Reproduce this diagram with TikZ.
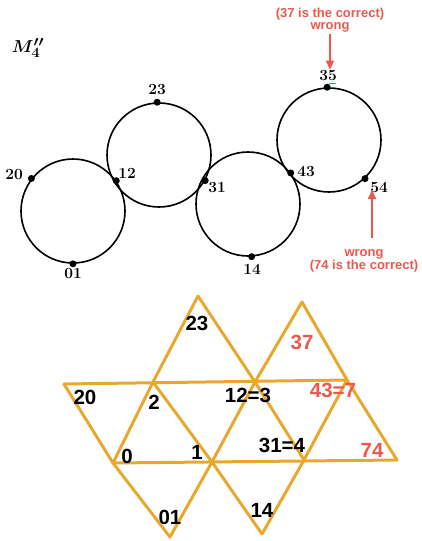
\documentclass[tikz,border=0pt]{standalone}
\usepackage{fontspec}
\usepackage{bm}
\usepackage{tikz}
\usetikzlibrary{arrows.meta, positioning}
\newfontfamily\arialfont{Liberation Sans}
\definecolor{orangeline}{RGB}{232,168,48}
\definecolor{redmark}{RGB}{236,88,76}

\begin{document}
\begin{tikzpicture}[x=1pt, y=-1pt,
    ring/.style={circle, draw=black, line width=1.6pt, minimum size=104pt, inner sep=0pt},
    dot/.style={circle, fill=black, inner sep=0pt, minimum size=7pt},
    num/.style={font=\fontsize{15.5}{15.5}\selectfont\bfseries, inner sep=1pt},
    note/.style={font=\arialfont\bfseries\fontsize{13}{11.5}\selectfont, text=redmark, align=center, inner sep=0pt},
    edge/.style={draw=orangeline, line width=3pt, line cap=round, line join=round},
    tri/.style={font=\arialfont\bfseries\fontsize{20.5}{20.5}\selectfont, inner sep=0pt},
    >={Triangle[width=8pt, length=9pt]}]
    \useasboundingbox (0,0) rectangle (421,541);

    % 1. Bốn đường tròn
    \node[font=\fontsize{19}{19}\selectfont\boldmath] (title) at (28,48) {$M_4''$};
    \node[ring] (c1) at (73,211) {};
    \node[ring] (c2) at (159,155) {};
    \node[ring] (c3) at (248,204) {};
    \node[ring] (c4) at (329,140) {};

    % Các điểm trên đường tròn
    \node[dot] (d20) at (c1.142) {};
    \node[dot] (d12) at (c1.35) {};
    \node[dot] (d01) at (c1.-90) {};
    \node[dot] (d23) at (c2.92) {};
    \node[dot] (d31) at (c2.-29) {};
    \node[dot] (d14) at (c3.-86) {};
    \node[dot] (d43) at (c3.36) {};
    \node[dot] (d35) at (c4.92) {};
    \node[dot] (d54) at (c4.-47) {};

    % Nhãn các điểm
    \node[num] (l20) at (14,175) {20};
    \node[num] (l12) at (127,173) {12};
    \node[num] (l23) at (157,90) {23};
    \node[num] (l31) at (217,188) {31};
    \node[num] (l43) at (306,171) {43};
    \node[num] (l35) at (328,76) {35};
    \node[num] (l54) at (379,187) {54};
    \node[num] (l14) at (252,269) {14};
    \node[num] (l01) at (73,274) {01};

    % 2. Ghi chú màu đỏ
    \node[note] (n1) at (330,20) {(37 is the correct)\\wrong};
    \draw[->, redmark, line width=1.6pt, shorten <=2pt] (n1.south) -- (n1.south |- l35.north);
    \draw[redmark, line width=1pt] ([xshift=1pt, yshift=-1pt]l35.south) -- ([xshift=8pt, yshift=-1pt]l35.south);

    \node[note] (n2) at (364,261) {wrong\\(74 is the correct)};
    \coordinate (t54) at (372,190);
    \draw[->, redmark, line width=1.6pt, shorten <=11pt] (n2.north -| t54) -- (t54);

    % 3. Lưới tam giác màu cam
    \coordinate (A) at (198,296);
    \coordinate (B) at (302,302);
    \coordinate (P1) at (64,384);
    \coordinate (P2) at (153,382);
    \coordinate (P3) at (255,382);
    \coordinate (P4) at (347,380);
    \coordinate (Q1) at (113,463);
    \coordinate (Q2) at (212,462);
    \coordinate (Q3) at (304,460);
    \coordinate (Q4) at (397,460);
    \coordinate (R1) at (170,537);
    \coordinate (R2) at (262,534);

    \draw[edge] (P1) -- (P4);
    \draw[edge] (Q1) -- (Q4);
    \draw[edge] (P1) -- (Q1) -- (R1);
    \draw[edge] (Q1) -- (P2) -- (A);
    \draw[edge] (A) -- (P3) -- (Q3);
    \draw[edge] (P2) -- (Q2) -- (R2);
    \draw[edge] (R1) -- (Q2) -- (P3) -- (B);
    \draw[edge] (B) -- (P4) -- (Q4);
    \draw[edge] (R2) -- (Q3) -- (P4);

    % Nhãn các tam giác
    \node[tri] (t23) at (197,323) {23};
    \node[tri, text=redmark] (t37) at (302,342) {37};
    \node[tri] (t20) at (85,397) {20};
    \node[tri] (t2) at (154,402) {2};
    \node[tri] (t12) at (248,395) {12=3};
    \node[tri, text=redmark] (t43) at (333,390) {43=7};
    \node[tri] (t0) at (127,456) {0};
    \node[tri] (t1) at (197,452) {1};
    \node[tri] (t31) at (282,445) {31=4};
    \node[tri, text=redmark] (t74) at (372,450) {74};
    \node[tri] (t01) at (170,517) {01};
    \node[tri] (t14) at (262,510) {14};
\end{tikzpicture}
\end{document}
